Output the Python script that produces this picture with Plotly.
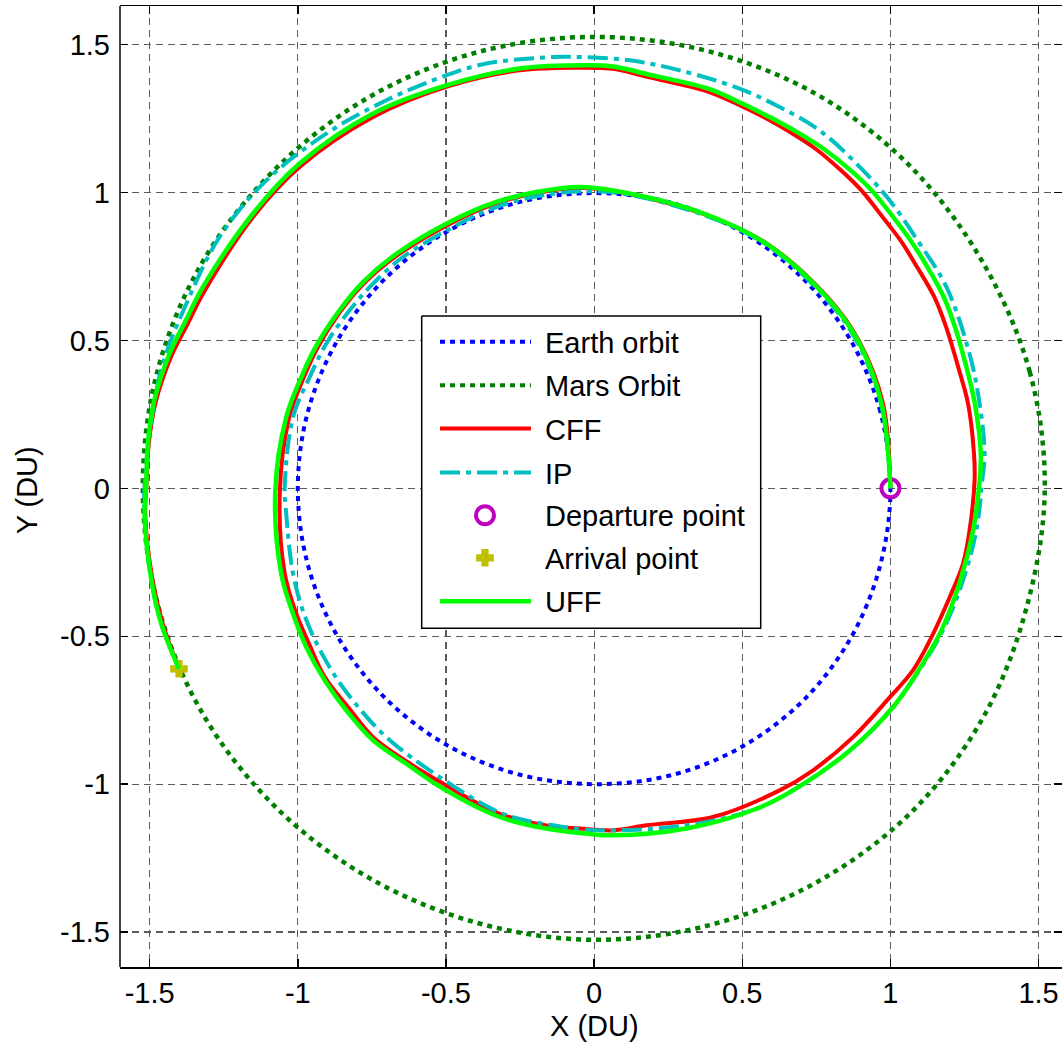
import numpy as np
import plotly.graph_objects as go

# ---------------- data ----------------
tick_vals = [-1.5, -1.0, -0.5, 0.0, 0.5, 1.0, 1.5]
tick_text = ["-1.5", "-1", "-0.5", "0", "0.5", "1", "1.5"]

orbit_theta_deg = [0, 15, 30, 45, 60, 75, 90, 105, 120, 135, 150, 165, 180,
                   195, 210, 225, 240, 255, 270, 285, 300, 315, 330, 345, 360]
earth_r = [1.000, 1.000, 1.000, 1.000, 1.000, 1.000, 0.998, 1.000, 1.000, 1.000,
           1.000, 1.000, 1.000, 1.000, 1.000, 1.000, 1.000, 1.000, 1.000, 1.004,
           1.006, 1.006, 1.003, 1.000, 1.000]
mars_r = [1.521, 1.522, 1.518, 1.524, 1.529, 1.527, 1.526, 1.526, 1.525, 1.524,
          1.527, 1.526, 1.523, 1.524, 1.525, 1.522, 1.520, 1.521, 1.526, 1.527,
          1.529, 1.531, 1.524, 1.514, 1.521]

cff_x = [1.000, 0.975, 0.893, 0.787, 0.583, 0.356, 0.065, -0.049, -0.195, -0.330,
         -0.476, -0.667, -0.780, -0.859, -0.932, -0.982, -1.030, -1.061, -1.044, -1.005,
         -0.960, -0.909, -0.830, -0.746, -0.630, -0.510, -0.319, -0.161, -0.049, 0.065,
         0.176, 0.401, 0.626, 0.739, 0.874, 0.998, 1.076, 1.133, 1.200, 1.245,
         1.267, 1.284, 1.282, 1.262, 1.235, 1.188, 1.148, 1.090, 1.034, 0.982,
         0.902, 0.833, 0.747, 0.660, 0.572, 0.486, 0.379, 0.176, 0.065, -0.049,
         -0.251, -0.499, -0.746, -0.994, -1.151, -1.320, -1.372, -1.428, -1.480, -1.503,
         -1.511, -1.515, -1.490, -1.456, -1.401]
cff_y = [0.000, 0.286, 0.500, 0.647, 0.827, 0.932, 1.005, 1.015, 0.998, 0.963,
         0.900, 0.786, 0.690, 0.594, 0.478, 0.370, 0.236, -0.020, -0.288, -0.424,
         -0.530, -0.638, -0.740, -0.841, -0.925, -0.998, -1.100, -1.140, -1.150, -1.156,
         -1.139, -1.111, -1.021, -0.953, -0.841, -0.706, -0.615, -0.514, -0.368, -0.255,
         -0.142, 0.027, 0.117, 0.286, 0.388, 0.545, 0.647, 0.748, 0.838, 0.906,
         1.007, 1.075, 1.148, 1.205, 1.255, 1.298, 1.343, 1.392, 1.418, 1.422,
         1.413, 1.357, 1.255, 1.086, 0.917, 0.658, 0.555, 0.444, 0.290, 0.150,
         0.004, -0.086, -0.311, -0.457, -0.610]

ip_x = [1.000, 0.968, 0.885, 0.778, 0.576, 0.352, 0.065, -0.139, -0.330, -0.476,
        -0.645, -0.746, -0.825, -0.904, -0.960, -1.016, -1.044, -1.039, -1.016, -0.971,
        -0.893, -0.814, -0.701, -0.521, -0.308, -0.139, 0.007, 0.311, 0.548, 0.671,
        0.863, 1.009, 1.090, 1.177, 1.245, 1.290, 1.310, 1.318, 1.301, 1.267,
        1.189, 1.099, 0.997, 0.885, 0.761, 0.626, 0.491, 0.289, 0.120, -0.049,
        -0.139, -0.364, -0.499, -0.701, -0.904, -1.106, -1.264, -1.376, -1.455, -1.494,
        -1.517, -1.517, -1.494, -1.461, -1.401]
ip_y = [0.000, 0.286, 0.500, 0.647, 0.827, 0.930, 1.000, 0.996, 0.951, 0.883,
        0.782, 0.692, 0.602, 0.489, 0.376, 0.241, 0.004, -0.086, -0.288, -0.446,
        -0.604, -0.717, -0.841, -0.976, -1.100, -1.139, -1.156, -1.139, -1.083, -1.021,
        -0.886, -0.739, -0.626, -0.480, -0.311, -0.142, 0.027, 0.117, 0.286, 0.455,
        0.681, 0.827, 0.974, 1.098, 1.210, 1.289, 1.351, 1.413, 1.447, 1.458,
        1.458, 1.436, 1.396, 1.312, 1.199, 1.041, 0.850, 0.624, 0.422, 0.230,
        0.004, -0.086, -0.311, -0.457, -0.610]

uff_x = [1.000, 0.970, 0.890, 0.784, 0.581, 0.356, 0.065, -0.049, -0.195, -0.330,
         -0.476, -0.667, -0.780, -0.859, -0.937, -0.988, -1.039, -1.076, -1.056, -1.016,
         -0.971, -0.909, -0.836, -0.746, -0.634, -0.510, -0.319, -0.161, -0.026, 0.063,
         0.311, 0.548, 0.671, 0.863, 1.009, 1.088, 1.172, 1.236, 1.279, 1.301,
         1.305, 1.285, 1.262, 1.218, 1.180, 1.125, 1.068, 1.018, 0.937, 0.866,
         0.774, 0.684, 0.592, 0.500, 0.385, 0.180, 0.065, -0.026, -0.251, -0.499,
         -0.746, -0.994, -1.151, -1.320, -1.378, -1.433, -1.486, -1.506, -1.512, -1.517,
         -1.494, -1.461, -1.401]
uff_y = [0.000, 0.286, 0.500, 0.647, 0.827, 0.934, 1.007, 1.019, 1.002, 0.968,
         0.906, 0.793, 0.697, 0.602, 0.483, 0.376, 0.241, -0.010, -0.288, -0.424,
         -0.537, -0.649, -0.751, -0.852, -0.931, -1.015, -1.111, -1.150, -1.167, -1.173,
         -1.150, -1.083, -1.021, -0.886, -0.739, -0.626, -0.480, -0.311, -0.142, 0.027,
         0.117, 0.286, 0.388, 0.545, 0.647, 0.748, 0.838, 0.906, 1.007, 1.075,
         1.148, 1.205, 1.255, 1.301, 1.351, 1.400, 1.426, 1.430, 1.419, 1.362,
         1.267, 1.098, 0.929, 0.681, 0.567, 0.455, 0.290, 0.150, 0.004, -0.086,
         -0.311, -0.457, -0.610]

departure_x = [1.0]
departure_y = [0.0]
arrival_x = [-1.401]
arrival_y = [-0.610]

legend_labels = ["Earth orbit", "Mars Orbit", "CFF", "IP",
                 "Departure point", "Arrival point", "UFF"]

# ---------------- styles ----------------
FONT = "Liberation Sans, Arial, Helvetica, sans-serif"
FS = 29
C_EARTH = "#0000FF"
C_MARS = "#007F00"
C_CFF = "#FF0000"
C_IP = "#00BFBF"
C_UFF = "#00FF00"
C_DEP = "#BF00BF"
C_ARR = "#BFBF00"
DOT = "5px,5px"
DASHDOT = "20px,6px,5px,6px"
SM = 1.0

th = np.deg2rad(np.array(orbit_theta_deg, dtype=float))
earth_x = np.array(earth_r) * np.cos(th)
earth_y = np.array(earth_r) * np.sin(th)
mars_x = np.array(mars_r) * np.cos(th)
mars_y = np.array(mars_r) * np.sin(th)

fig = go.Figure()
common = dict(mode="lines", showlegend=False, hoverinfo="skip")
fig.add_trace(go.Scatter(x=earth_x, y=earth_y, line=dict(color=C_EARTH, width=4, dash=DOT, shape="spline"), **common))
fig.add_trace(go.Scatter(x=mars_x, y=mars_y, line=dict(color=C_MARS, width=4.5, dash=DOT, shape="spline"), **common))
fig.add_trace(go.Scatter(x=cff_x, y=cff_y, line=dict(color=C_CFF, width=4, shape="spline", smoothing=SM), **common))
fig.add_trace(go.Scatter(x=ip_x, y=ip_y, line=dict(color=C_IP, width=4, dash=DASHDOT, shape="spline", smoothing=SM), **common))
fig.add_trace(go.Scatter(x=departure_x, y=departure_y, mode="markers", showlegend=False, hoverinfo="skip",
                         marker=dict(symbol="circle-open", size=18, color=C_DEP, line=dict(width=4, color=C_DEP))))
fig.add_trace(go.Scatter(x=arrival_x, y=arrival_y, mode="markers", showlegend=False, hoverinfo="skip",
                         marker=dict(symbol="cross", size=13, color=C_ARR, line=dict(width=2, color=C_ARR))))
fig.add_trace(go.Scatter(x=uff_x, y=uff_y, line=dict(color=C_UFF, width=4.5, shape="spline", smoothing=SM), **common))

# ---------------- custom legend (pixel-like overlay axes) ----------------
L, T, R, B = 421.7, 315.7, 760.7, 628.0
rows = [341.5, 385.0, 428.3, 472.3, 515.0, 557.5, 601.0]
sx0, sx1, mx, tx = 440, 531, 485, 543
ov = dict(xaxis="x2", yaxis="y2", showlegend=False, hoverinfo="skip")
fig.add_trace(go.Scatter(x=[L, R, R, L, L], y=[T, T, B, B, T], mode="lines", fill="toself",
                         fillcolor="white", line=dict(color="black", width=1.5), **ov))
line_styles = [(C_EARTH, DOT), (C_MARS, DOT), (C_CFF, "solid"), (C_IP, DASHDOT)]
for i, (c, d) in enumerate(line_styles):
    fig.add_trace(go.Scatter(x=[sx0, sx1], y=[rows[i], rows[i]], mode="lines",
                             line=dict(color=c, width=4, dash=d), **ov))
fig.add_trace(go.Scatter(x=[mx], y=[rows[4]], mode="markers",
                         marker=dict(symbol="circle-open", size=18, color=C_DEP, line=dict(width=4, color=C_DEP)), **ov))
fig.add_trace(go.Scatter(x=[mx], y=[rows[5]], mode="markers",
                         marker=dict(symbol="cross", size=13, color=C_ARR, line=dict(width=2, color=C_ARR)), **ov))
fig.add_trace(go.Scatter(x=[sx0, sx1], y=[rows[6], rows[6]], mode="lines",
                         line=dict(color=C_UFF, width=4.5), **ov))

annotations = []
for i, lab in enumerate(legend_labels):
    annotations.append(dict(x=tx, y=rows[i] + 1, xref="x2", yref="y2", text=lab, showarrow=False,
                            xanchor="left", yanchor="middle", font=dict(family=FONT, size=FS, color="black")))
annotations.append(dict(x=0.5032, y=-0.0617, xref="paper", yref="paper", text="X (DU)", showarrow=False,
                        xanchor="center", yanchor="middle", font=dict(family=FONT, size=FS, color="black")))
annotations.append(dict(x=-0.0987, y=0.496, xref="paper", yref="paper", text="Y (DU)", showarrow=False,
                        textangle=-90, xanchor="center", yanchor="middle", font=dict(family=FONT, size=FS, color="black")))

axis_common = dict(
    tickmode="array", tickvals=tick_vals, ticktext=tick_text,
    ticks="inside", ticklen=8, tickwidth=1.5, tickcolor="black",
    showgrid=True, gridcolor="#5a5a5a", gridwidth=1.2, griddash="7px,5px",
    zeroline=False, tickfont=dict(family=FONT, size=FS, color="black"),
)

fig.update_layout(
    width=1062, height=1048,
    margin=dict(l=120, r=0, t=6, b=81),
    paper_bgcolor="white", plot_bgcolor="white",
    showlegend=False,
    xaxis=dict(range=[-1.6, 1.579], showline=True, linecolor="black", linewidth=1.5, mirror="ticks",
               ticklabelstandoff=0, **axis_common),
    yaxis=dict(range=[-1.618, 1.6305], showline=False, mirror="ticks", ticklabelstandoff=9, **axis_common),
    xaxis2=dict(range=[120, 1062], overlaying="x", visible=False, fixedrange=True),
    yaxis2=dict(range=[966.7, 5.7], overlaying="y", visible=False, fixedrange=True),
    annotations=annotations,
    shapes=[dict(type="line", xref="paper", yref="paper", x0=0, x1=0, y0=0, y1=1,
                 line=dict(color="black", width=1.5), layer="above")],
)

fig.write_html("out.html", config={"displayModeBar": False, "staticPlot": True},
               post_script="document.body.style.margin='0';document.body.style.overflow='hidden';")
